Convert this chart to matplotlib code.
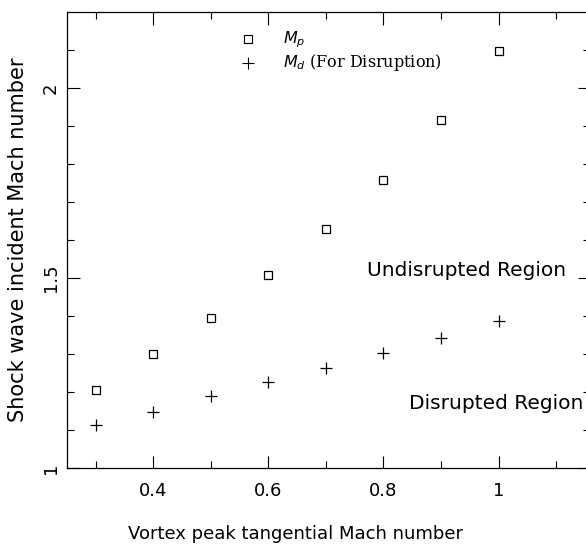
import numpy as np
import matplotlib.pyplot as plt

# datos
mach_vortice = [0.3, 0.4, 0.5, 0.6, 0.7, 0.8, 0.9, 1.0]
m_p = [1.205, 1.30, 1.394, 1.508, 1.63, 1.758, 1.917, 2.098]
m_d = [1.114, 1.149, 1.189, 1.226, 1.263, 1.303, 1.343, 1.386]

fig = plt.figure(figsize=(5.86, 5.45), dpi=100)
ax = fig.add_axes([0.114, 0.141, 0.892, 0.837])

ax.plot(mach_vortice, m_p, ls="none", marker="s", mfc="none", mec="black",
        ms=6, mew=0.9)
ax.plot(mach_vortice, m_d, ls="none", marker="+", color="black",
        ms=9, mew=0.9)

ax.set_xlim(0.25, 1.158)
ax.set_ylim(1.0, 2.2)

# ticks hacia adentro, en los cuatro lados
ax.set_xticks([0.4, 0.6, 0.8, 1.0])
ax.set_xticklabels(["0.4", "0.6", "0.8", "1"])
ax.set_xticks(np.arange(0.3, 1.15, 0.2), minor=True)
ax.set_yticks([1.0, 1.5, 2.0])
ax.set_yticklabels(["1", "1.5", "2"], rotation=90, va="center")
ax.set_yticks(np.arange(1.1, 2.2, 0.1), minor=True)
ax.tick_params(which="both", direction="in", top=True, right=True,
               labelsize=13, width=0.8)
ax.tick_params(axis="x", pad=10)
ax.tick_params(axis="y", pad=5)
ax.tick_params(which="major", length=9)
ax.tick_params(which="minor", length=5)
for s in ax.spines.values():
    s.set_linewidth(0.9)

ax.set_xlabel("Vortex peak tangential Mach number", fontsize=13, labelpad=18,
              x=0.438)
ax.set_ylabel("Shock wave incident Mach number", fontsize=15, labelpad=10)

# leyenda hecha a mano
ax.plot([0.564], [2.128], ls="none", marker="s", mfc="none", mec="black",
        ms=6, mew=0.8)
ax.plot([0.564], [2.066], ls="none", marker="+", color="black", ms=8, mew=0.8)
ax.text(0.625, 2.128, r"$M_p$", fontsize=11.5, va="center", family="serif")
ax.text(0.625, 2.066, r"$M_d$ (For Disruption)", fontsize=11.5, va="center",
        family="DejaVu Serif")

ax.text(0.771, 1.52, "Undisrupted Region", fontsize=14.5, va="center")
ax.text(0.845, 1.17, "Disrupted Region", fontsize=14.5, va="center")

fig.savefig("out.png", dpi=100)
